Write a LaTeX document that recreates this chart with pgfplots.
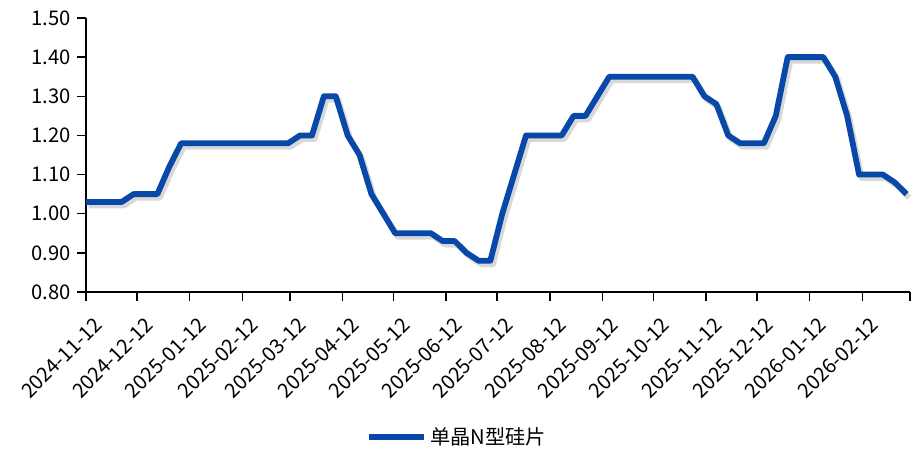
\documentclass[border=0pt]{standalone}
\usepackage{pgfplots}
\pgfplotsset{compat=1.18}
\usepackage{pgfplotstable}
\usepackage{fontspec}
\setmainfont{Noto Sans CJK SC}

\definecolor{lineblue}{RGB}{8,72,168}

% x = days since 2024-11-12, weekly prices
\pgfplotstableread{
day price
0   1.03
7   1.03
14  1.03
21  1.03
28  1.05
35  1.05
42  1.05
49  1.12
56  1.18
63  1.18
70  1.18
77  1.18
84  1.18
91  1.18
98  1.18
105 1.18
112 1.18
119 1.18
126 1.20
133 1.20
140 1.30
147 1.30
154 1.20
161 1.15
168 1.05
175 1.00
182 0.95
189 0.95
196 0.95
203 0.95
210 0.93
217 0.93
224 0.90
231 0.88
238 0.88
245 1.00
252 1.10
259 1.20
266 1.20
273 1.20
280 1.20
287 1.25
294 1.25
301 1.30
308 1.35
315 1.35
322 1.35
329 1.35
336 1.35
343 1.35
350 1.35
357 1.35
364 1.30
371 1.28
378 1.20
385 1.18
392 1.18
399 1.18
406 1.25
413 1.40
420 1.40
427 1.40
434 1.40
441 1.35
448 1.25
455 1.10
462 1.10
469 1.10
476 1.08
483 1.05
}\wafer

\begin{document}
\begin{tikzpicture}
\begin{axis}[
    scale only axis,
    width=16.48cm, height=5.48cm,
    xmin=0, xmax=485,
    ymin=0.8, ymax=1.5,
    axis x line*=bottom, axis y line*=left,
    axis line style={black, line width=0.8pt},
    tick style={black, line width=0.8pt},
    tick align=outside,
    major tick length=5pt,
    xtick={0,30,61,92,120,151,181,212,242,273,304,334,365,395,426,457,485},
    xticklabels={2024-11-12,2024-12-12,2025-01-12,2025-02-12,2025-03-12,2025-04-12,
        2025-05-12,2025-06-12,2025-07-12,2025-08-12,2025-09-12,2025-10-12,
        2025-11-12,2025-12-12,2026-01-12,2026-02-12,{}},
    x tick label style={xshift=4pt, yshift=-7pt, rotate=45, anchor=north east,
        inner sep=1pt, font=\fontsize{11.5}{13}\selectfont},
    ytick={0.8,0.9,...,1.51},
    y tick label style={font=\fontsize{11.5}{13}\selectfont,
        /pgf/number format/fixed, /pgf/number format/fixed zerofill,
        /pgf/number format/precision=2},
    /pgf/number format/assume math mode=true,
    legend style={at={(0.451,-0.53)}, anchor=center, draw=none,
        font=\fontsize{11.5}{13}\selectfont},
    legend image code/.code={\draw[#1, line width=3.3pt] (0cm,0cm) -- (1.1cm,0cm);},
    clip=false,
]
\addplot[gray!60, opacity=0.5, line width=3.3pt, line join=round, forget plot,
    transform canvas={xshift=1.5pt, yshift=-2pt}] table[x=day, y=price] {\wafer};
\addplot[lineblue, line width=3.3pt, line join=round] table[x=day, y=price] {\wafer};
\addlegendentry{单晶N型硅片}
\coordinate (bl) at (rel axis cs:-0.1044,-0.5766);
\coordinate (tr) at (rel axis cs:1.00485,1.0657);
\end{axis}
\pgfresetboundingbox
\path[use as bounding box] (bl) rectangle (tr);
\end{tikzpicture}
\end{document}
